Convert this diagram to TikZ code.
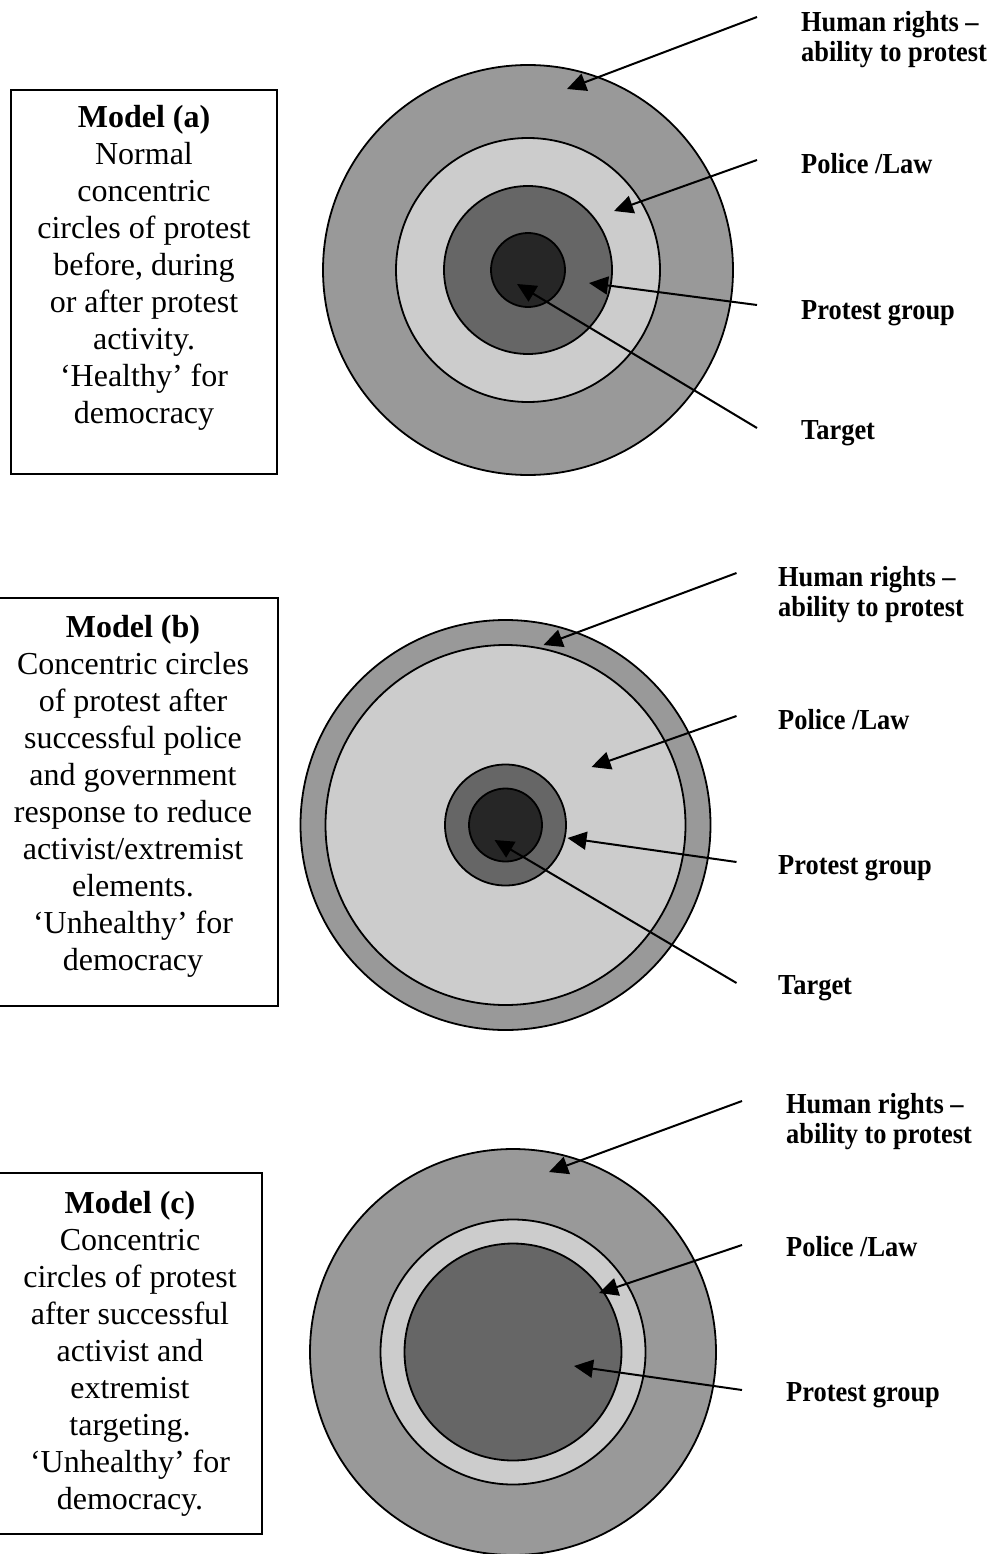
\documentclass[tikz,border=0pt]{standalone}
\usepackage{fontspec}
\setmainfont{Liberation Serif}
\newfontfamily\labelfont[FakeStretch=0.91]{Liberation Serif}
\usetikzlibrary{arrows.meta}

\definecolor{rightsgray}{gray}{0.6}
\definecolor{policegray}{gray}{0.8}
\definecolor{protestgray}{gray}{0.4}
\definecolor{targetgray}{gray}{0.15}

\begin{document}
\begin{tikzpicture}[x=1pt, y=-1pt,
        ring/.style={draw=black, line width=1.8pt},
        modelbox/.style={draw=black, line width=2pt, inner sep=0pt},
        modeltext/.style={anchor=north, align=center, inner sep=0pt,
            font=\fontsize{32}{37}\selectfont},
        layer_label/.style={anchor=base west, align=left, inner sep=0pt,
            font=\labelfont\fontsize{29}{30.5}\selectfont\bfseries},
        pointer/.style={-{Triangle[length=19pt, width=18pt]}, line width=2pt}
    ]
    \useasboundingbox (0,0) rectangle (998,1554);

    % --- MODEL (a): normal circles ---
    \begin{scope}
        \node[modelbox, minimum width=266pt, minimum height=384pt] (boxa) at (144,282) {};
        \node[modeltext] (texta) at (144,105) {\textbf{Model (a)}\\Normal\\concentric\\circles of protest\\before, during\\or after protest\\activity.\\‘Healthy’ for\\democracy};

        \draw[ring, fill=rightsgray] (528,270) circle (205);
        \draw[ring, fill=policegray] (528,270) circle (132);
        \draw[ring, fill=protestgray] (528,270) circle (84);
        \draw[ring, fill=targetgray] (528,270) circle (37);

        \node[layer_label, anchor=north west] (hra) at (801,11) {Human rights –\\ability to protest};
        \node[layer_label] (pola) at (801,174) {Police /Law};
        \node[layer_label] (proa) at (801,319) {Protest group};
        \node[layer_label] (tara) at (801,439) {Target};

        \coordinate (hra0) at (757,17);   \coordinate (hra1) at (567,89);
        \coordinate (pola0) at (757,160); \coordinate (pola1) at (614,211);
        \coordinate (proa0) at (757,305); \coordinate (proa1) at (589,283);
        \coordinate (tara0) at (757,428); \coordinate (tara1) at (517,284);
        \draw[pointer] (hra0) -- (hra1);
        \draw[pointer] (pola0) -- (pola1);
        \draw[pointer] (proa0) -- (proa1);
        \draw[pointer] (tara0) -- (tara1);
    \end{scope}

    % --- MODEL (b): police and government win ---
    \begin{scope}[shift={(-22.5,555)}]
        \node[modelbox, minimum width=290pt, minimum height=408pt] (boxb) at (155.5,247) {};
        \node[modeltext] (textb) at (155.5,60) {\textbf{Model (b)}\\Concentric circles\\of protest after\\successful police\\and government\\response to reduce\\activist/extremist\\elements.\\‘Unhealthy’ for\\democracy};

        \draw[ring, fill=rightsgray] (528,270) circle (205);
        \draw[ring, fill=policegray] (528,270) circle (180);
        \draw[ring, fill=protestgray] (528,270) circle (60.5);
        \draw[ring, fill=targetgray] (528,270) circle (36.5);

        \node[layer_label, anchor=north west] (hrb) at (800.5,11) {Human rights –\\ability to protest};
        \node[layer_label] (polb) at (800.5,174) {Police /Law};
        \node[layer_label] (prob) at (800.5,319) {Protest group};
        \node[layer_label] (tarb) at (800.5,439) {Target};

        \coordinate (hrb0) at (759,18);   \coordinate (hrb1) at (566,90);
        \coordinate (polb0) at (759,161); \coordinate (polb1) at (614,212);
        \coordinate (prob0) at (759,307); \coordinate (prob1) at (590,283);
        \coordinate (tarb0) at (759,428); \coordinate (tarb1) at (517,285);
        \draw[pointer] (hrb0) -- (hrb1);
        \draw[pointer] (polb0) -- (polb1);
        \draw[pointer] (prob0) -- (prob1);
        \draw[pointer] (tarb0) -- (tarb1);
    \end{scope}

    % --- MODEL (c): activists and extremists win ---
    \begin{scope}[shift={(-15,1082)}]
        \node[modelbox, minimum width=264pt, minimum height=361pt] (boxc) at (145,271.5) {};
        \node[modeltext] (textc) at (145,109) {\textbf{Model (c)}\\Concentric\\circles of protest\\after successful\\activist and\\extremist\\targeting.\\‘Unhealthy’ for\\democracy.};

        \draw[ring, fill=rightsgray] (528,270) circle (203);
        \draw[ring, fill=policegray] (528,270) circle (132.5);
        \draw[ring, fill=protestgray] (528,270) circle (108.5);

        \node[layer_label, anchor=north west] (hrc) at (801,11) {Human rights –\\ability to protest};
        \node[layer_label] (polc) at (801,174) {Police /Law};
        \node[layer_label] (proc) at (801,319) {Protest group};

        \coordinate (hrc0) at (757,19);   \coordinate (hrc1) at (564,90);
        \coordinate (polc0) at (757,163); \coordinate (polc1) at (614,211);
        \coordinate (proc0) at (757,308); \coordinate (proc1) at (589,284);
        \draw[pointer] (hrc0) -- (hrc1);
        \draw[pointer] (polc0) -- (polc1);
        \draw[pointer] (proc0) -- (proc1);
    \end{scope}

\end{tikzpicture}
\end{document}
